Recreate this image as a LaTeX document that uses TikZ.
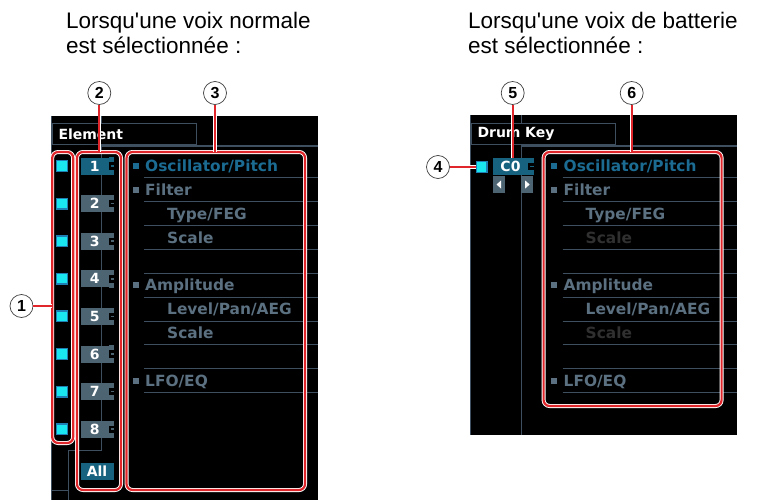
\documentclass[tikz,border=0pt]{standalone}
\usepackage{fontspec}
\setmainfont{Liberation Sans}
\newfontfamily\lcdfont{DejaVu Sans}
\usetikzlibrary{positioning}

\definecolor{lcdline}{HTML}{3E5060}
\definecolor{lcdtext}{HTML}{5B7080}
\definecolor{lcdsel}{HTML}{1B6B92}
\definecolor{lcddim}{HTML}{303030}
\definecolor{btnsel}{HTML}{17627F}
\definecolor{btngrey}{HTML}{4D6473}
\definecolor{chkfill}{HTML}{19E6EE}
\definecolor{chkedge}{HTML}{1F7FB5}
\definecolor{callred}{HTML}{E0262A}

\tikzset{
  headline/.style={anchor=base west, inner sep=0pt, font=\fontsize{22.5}{25}\selectfont},
  lcdgrid/.style={draw=lcdline, line width=1pt},
  hdrbox/.style={draw=lcdline, line width=1pt, anchor=north west, text width=131pt, align=left,
    minimum height=21pt, inner xsep=6.5pt, inner ysep=0pt, text=white,
    font=\lcdfont\bfseries\fontsize{14}{14}\selectfont},
  menuitem/.style={anchor=base west, inner sep=0pt, text=lcdtext,
    font=\lcdfont\bfseries\fontsize{15.4}{16}\selectfont},
  menusel/.style={menuitem, text=lcdsel},
  menudim/.style={menuitem, text=lcddim},
  sqbullet/.style={fill=lcdtext, minimum size=6pt, inner sep=0pt},
  chk/.style={draw=chkedge, fill=chkfill, line width=1.4pt, minimum size=10.5pt, inner sep=0pt},
  btn/.style={fill=btngrey, minimum width=27.5pt, minimum height=17pt, inner sep=0pt, text=white,
    font=\lcdfont\bfseries\fontsize{14}{14}\selectfont},
  arrbox/.style={fill=btngrey, minimum width=11.5pt, minimum height=17pt, inner sep=0pt},
  callframe/.style={draw=white, double=callred, double distance=2.2pt, line width=0.9pt,
    rounded corners=6pt, inner sep=0pt},
  callline/.style={draw=white, double=callred, double distance=2.2pt, line width=0.6pt},
  callnum/.style={circle, draw=black!75, line width=0.7pt, fill=white, minimum size=23pt,
    inner sep=0pt, font=\bfseries\fontsize{16}{16}\selectfont},
}

\begin{document}
\begin{tikzpicture}[x=1pt,y=-1pt]
\useasboundingbox (0,0) rectangle (760,500);

% titles
\node[headline] (tl1) at (66,29) {Lorsqu\textquotesingle une voix normale};
\node[headline] (tl2) at (66,54) {est sélectionnée :};
\node[headline] (tr1) at (468,29) {Lorsqu\textquotesingle une voix de batterie};
\node[headline] (tr2) at (468,54) {est sélectionnée :};

% left screen
\fill[black] (51,116) rectangle (318,500);
\draw[lcdgrid] (51.5,116) -- (51.5,500);
\draw[lcdgrid] (101.5,116) -- (101.5,123);
\node[hdrbox] (elem) at (51.5,123) {Element};
\draw[lcdgrid] (101.5,450) -- (101.5,146) -- (318,146);
\draw[lcdgrid] (68,500) -- (68,450) -- (101.5,450);
\draw[lcdgrid] (51,490) -- (68,490);

% right screen
\fill[black] (470,115) rectangle (737,435);
\draw[lcdgrid] (470.5,115) -- (470.5,435);
\draw[lcdgrid] (521,115) -- (521,123);
\node[hdrbox] (drum) at (470.5,123) {Drum Key};
\draw[lcdgrid] (521,435) -- (521,146) -- (737,146);

% menus
\foreach \dx/\p/\dimsty in {0/L/menuitem, 418.5/R/menudim} {
  \foreach \r in {0,...,9}
    \draw[lcdgrid] ({144+\dx},{177.9+23.85*\r}) -- ({318+\dx},{177.9+23.85*\r});
  \node[sqbullet, fill=lcdsel] (s\p1) at ({135.5+\dx},166) {};
  \node[menusel] (m\p1) at ({145+\dx},171.5) {Oscillator/Pitch};
  \node[sqbullet] (s\p2) at ({135.5+\dx},189.85) {};
  \node[menuitem] (m\p2) at ({145+\dx},195.35) {Filter};
  \node[menuitem] (m\p3) at ({167+\dx},219.2) {Type/FEG};
  \node[\dimsty] (m\p4) at ({167+\dx},243.05) {Scale};
  \node[sqbullet] (s\p6) at ({135.5+\dx},285.25) {};
  \node[menuitem] (m\p6) at ({145+\dx},290.75) {Amplitude};
  \node[menuitem] (m\p7) at ({167+\dx},314.6) {Level/Pan/AEG};
  \node[\dimsty] (m\p8) at ({167+\dx},338.45) {Scale};
  \node[sqbullet] (s\p10) at ({135.5+\dx},380.65) {};
  \node[menuitem] (m\p10) at ({145+\dx},386.15) {LFO/EQ};
}

% element switches and buttons
\foreach \i in {1,...,8}
  \node[chk] (k\i) at (62,{166+37.6*(\i-1)}) {};
\node[btn, fill=btnsel] (b1) at (94.75,166) {1};
\foreach \i in {2,...,8}
  \node[btn] (b\i) at (94.75,{166+37.6*(\i-1)}) {\i};
\node[btn, fill=btnsel, minimum width=33pt] (ball) at (97,471) {All};

% drum key
\node[chk] (k0) at (481.7,167) {};
\node[btn, fill=btnsel, minimum width=35pt] (c0) at (510.5,166.5) {C0};
\node[arrbox] (al) at (499,184.5) {};
\node[arrbox] (ar) at (527.2,184.5) {};
\fill[white] ([xshift=-2.5pt]al.center) -- ++(4.5,-4) -- ++(0,8) -- cycle;
\fill[white] ([xshift=2.5pt]ar.center) -- ++(-4.5,-4) -- ++(0,8) -- cycle;

% button tabs
\foreach \b/\c in {b1/btnsel,b2/btngrey,b3/btngrey,b4/btngrey,b5/btngrey,b6/btngrey,b7/btngrey,b8/btngrey,c0/btnsel} {
  \fill[\c] (\b.north east) rectangle ++(5.5,5);
  \fill[\c] (\b.south east) rectangle ++(5.5,-5);
  \draw[\c, line width=1.5pt] ([xshift=2pt]\b.east) -- ++(3.5,0);
}

% red frames
\node[callframe, minimum width=21pt, minimum height=291pt] (f1) at (62.7,297.5) {};
\node[callframe, minimum width=44pt, minimum height=338pt] (f2) at (99,321) {};
\node[callframe, minimum width=178.5pt, minimum height=338pt] (f3) at (215.8,321) {};
\node[callframe, minimum width=178pt, minimum height=254pt] (f6) at (632.6,279) {};

% callouts
\node[callnum] (n1) at (21.5,306) {1};
\node[callnum] (n2) at (99.3,93) {2};
\node[callnum] (n3) at (215,93) {3};
\node[callnum] (n4) at (438,167) {4};
\node[callnum] (n5) at (512.7,93) {5};
\node[callnum] (n6) at (631.7,93) {6};
\draw[callline] (n1) -- (n1 -| f1.west);
\draw[callline] (n2) -- (n2 |- f2.north);
\draw[callline] (n3) -- (n3 |- f3.north);
\draw[callline] (n4) -- (n4 -| k0.west);
\draw[callline] (n5) -- (n5 |- c0.north);
\draw[callline] (n6) -- (n6 |- f6.north);
\end{tikzpicture}
\end{document}
